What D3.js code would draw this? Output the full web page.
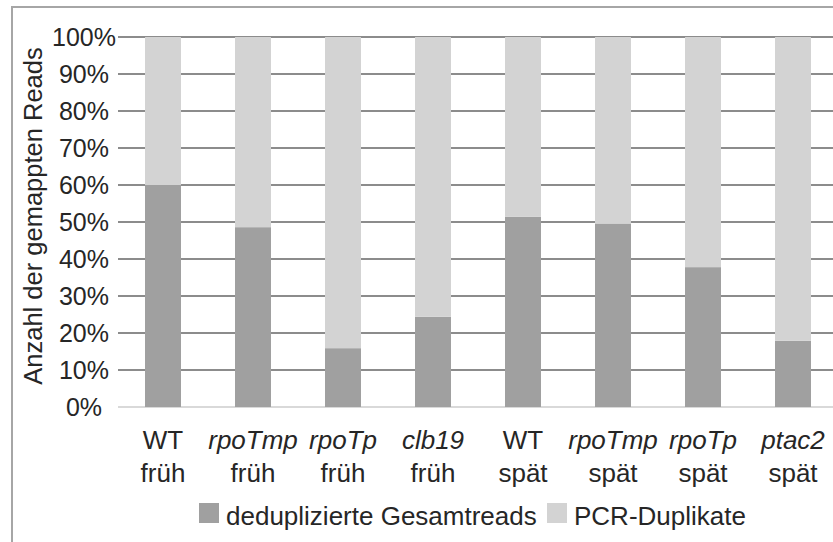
<!DOCTYPE html>
<html>
<head>
<meta charset="utf-8">
<script src="https://cdn.jsdelivr.net/npm/d3@7"></script>
<style>
  body { margin: 0; background: #fff; }
  svg { display: block; font-family: "Liberation Sans", Arial, sans-serif; }
</style>
</head>
<body>
<svg id="chart" width="833" height="542"></svg>
<script>
// Data
var genotypes = ["WT", "rpoTmp", "rpoTp", "clb19", "WT", "rpoTmp", "rpoTp", "ptac2"];
var stages = ["früh", "früh", "früh", "früh", "spät", "spät", "spät", "spät"];
var italicName = [false, true, true, true, false, true, true, true];
var dedup = [60.0, 48.6, 15.9, 24.4, 51.4, 49.6, 37.8, 17.9];
var pcrDup = dedup.map(function(d) { return 100 - d; });
var yTicks = [0, 10, 20, 30, 40, 50, 60, 70, 80, 90, 100];
var seriesNames = ["deduplizierte Gesamtreads", "PCR-Duplikate"];
var seriesColors = ["#a0a0a0", "#d3d3d3"];

var svg = d3.select("#chart");
var textColor = "#262626";

var ids = genotypes.map(function(d, i) { return i; });
var rows = ids.map(function(i) { return { id: i, dedup: dedup[i], pcr: pcrDup[i] }; });

var x = d3.scaleBand()
  .domain(ids)
  .range([118, 838])
  .paddingInner(0.6)
  .paddingOuter(0.3);

var y = d3.scaleLinear()
  .domain([0, 100])
  .range([407, 37]);

// Outer frame (cut off at right and bottom)
svg.append("rect")
  .attr("x", 12)
  .attr("y", 7)
  .attr("width", 900)
  .attr("height", 600)
  .style("fill", "none")
  .style("stroke", "#a6a6a6")
  .style("stroke-width", 2);

// Gridlines
svg.append("g")
  .attr("class", "grid")
  .selectAll("line")
  .data(yTicks)
  .enter().append("line")
  .attr("x1", 118)
  .attr("x2", 833)
  .attr("y1", function(d) { return y(d); })
  .attr("y2", function(d) { return y(d); })
  .style("stroke", function(d) { return d === 0 ? "#d9d9d9" : "#8c8c8c"; })
  .style("stroke-width", 2);

// Y tick labels
svg.append("g")
  .attr("class", "ylabels")
  .selectAll("text")
  .data(yTicks)
  .enter().append("text")
  .attr("x", 84)
  .attr("y", function(d) { return y(d); })
  .attr("dy", 9)
  .style("text-anchor", "middle")
  .style("font-size", "25px")
  .style("fill", textColor)
  .text(function(d) { return d + "%"; });

// Y axis title
svg.append("text")
  .attr("transform", "translate(42,216) rotate(-90)")
  .style("text-anchor", "middle")
  .style("font-size", "25.5px")
  .style("fill", textColor)
  .text("Anzahl der gemappten Reads");

// Stacked bars
var stack = d3.stack().keys(["dedup", "pcr"]);
var layers = stack(rows);

svg.append("g")
  .attr("class", "bars")
  .selectAll("g")
  .data(layers)
  .enter().append("g")
  .style("fill", function(d, i) { return seriesColors[i]; })
  .selectAll("rect")
  .data(function(d) { return d; })
  .enter().append("rect")
  .attr("x", function(d) { return x(d.data.id); })
  .attr("width", x.bandwidth())
  .attr("y", function(d) { return y(d[1]); })
  .attr("height", function(d) { return y(d[0]) - y(d[1]); });

// X labels (two lines)
var xl = svg.append("g")
  .attr("class", "xlabels")
  .selectAll("g")
  .data(ids)
  .enter().append("g")
  .attr("transform", function(i) { return "translate(" + (x(i) + x.bandwidth() / 2) + ",0)"; });

xl.append("text")
  .attr("y", 449)
  .style("text-anchor", "middle")
  .style("font-size", "26px")
  .style("fill", textColor)
  .style("font-style", function(i) { return italicName[i] ? "italic" : "normal"; })
  .text(function(i) { return genotypes[i]; });

xl.append("text")
  .attr("y", 482)
  .style("text-anchor", "middle")
  .style("font-size", "26px")
  .style("fill", textColor)
  .text(function(i) { return stages[i]; });

// Legend
var legendX = [199, 547];
var legend = svg.append("g")
  .attr("class", "legend")
  .selectAll("g")
  .data(seriesNames)
  .enter().append("g")
  .attr("transform", function(d, i) { return "translate(" + legendX[i] + ",503)"; });

legend.append("rect")
  .attr("width", 20)
  .attr("height", 20)
  .style("fill", function(d, i) { return seriesColors[i]; });

legend.append("text")
  .attr("x", 27)
  .attr("y", 22)
  .style("font-size", "26px")
  .style("fill", textColor)
  .text(function(d) { return d; });
</script>
</body>
</html>
